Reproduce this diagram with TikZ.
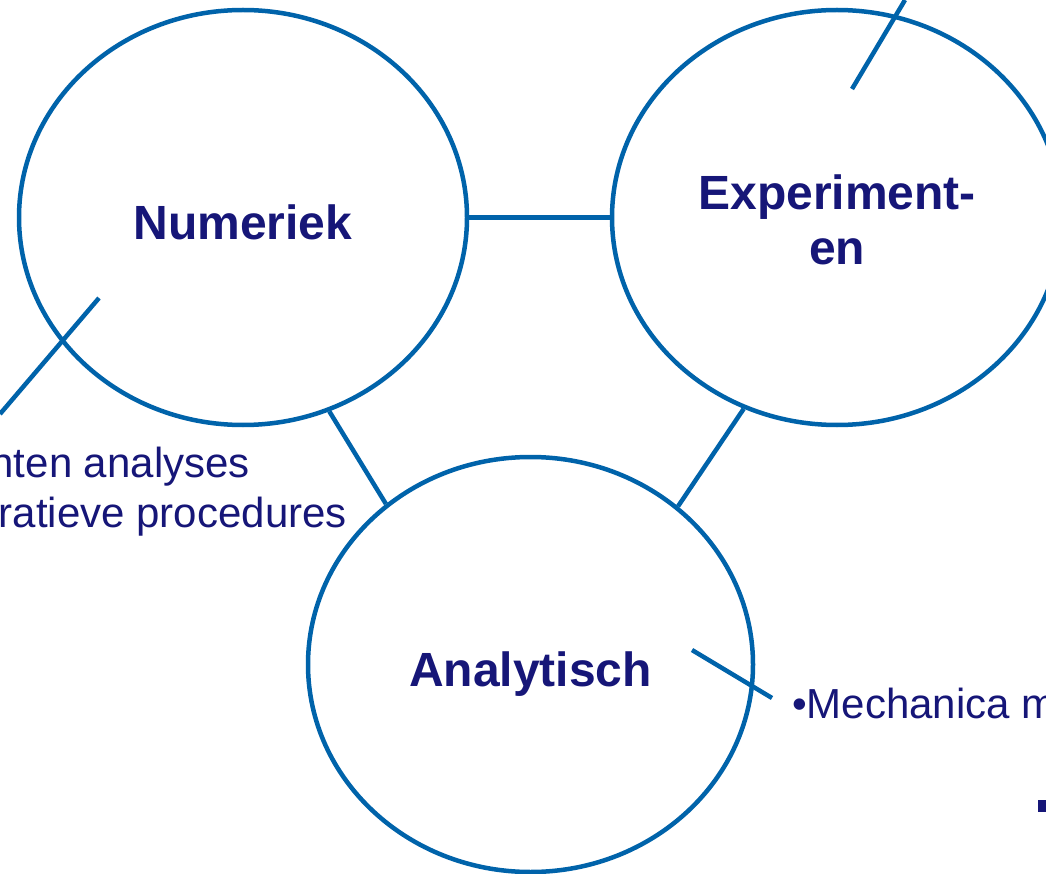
\documentclass[tikz,border=0pt]{standalone}
\usepackage{fontspec}
\setmainfont{Liberation Sans}
\usetikzlibrary{shapes.geometric}
\definecolor{ringblue}{RGB}{0,99,170}
\definecolor{navytext}{RGB}{22,22,120}
\tikzset{
  ring/.style={ellipse, draw=ringblue, line width=4.5pt, inner sep=0pt,
    text=navytext, align=center, font=\fontsize{48}{55}\selectfont\bfseries},
  link/.style={draw=ringblue, line width=4.5pt},
  note/.style={text=navytext, inner sep=0pt, font=\fontsize{42}{48}\selectfont}
}
\begin{document}
\begin{tikzpicture}[x=1pt,y=-1pt]
\useasboundingbox (0,0) rectangle (1046,874);
\clip (0,0) rectangle (1046,874);
\fill[white] (0,0) rectangle (1046,874);

\node[ring, minimum width=448pt, minimum height=415pt] (num) at (243,217.5) {\rule{0pt}{44pt}Numeriek};
\node[ring, minimum width=450pt, minimum height=415pt] (exp) at (837,217.5) {\rule{0pt}{40pt}Experiment-\\en};
\node[ring, minimum width=445pt, minimum height=415pt] (ana) at (530.5,664.5) {\rule{0pt}{54pt}Analytisch};

\draw[link] (num) -- (exp);
\draw[link] (num.-66.9) -- (ana.132);
\draw[link] (exp.-116.7) -- (ana.47.4);

\coordinate (numin) at (99,298);
\coordinate (numout) at (0,414);
\coordinate (expin) at (852,89);
\coordinate (expout) at (905,0);
\coordinate (anain) at (692,650);
\coordinate (anaout) at (772,698);
\draw[link] (numin) -- (numout);
\draw[link] (expin) -- (expout);
\draw[link] (anain) -- (anaout);

\node[note, anchor=base east] (n1) at (250,477) {nten analyses};
\node[note, anchor=base east] (n2) at (347,527) {ratieve procedures};
\node[note, anchor=base west] (a1) at (792,718) {•Mechanica m};
\fill[navytext] (1038,800) rectangle (1046,812);
\end{tikzpicture}
\end{document}
